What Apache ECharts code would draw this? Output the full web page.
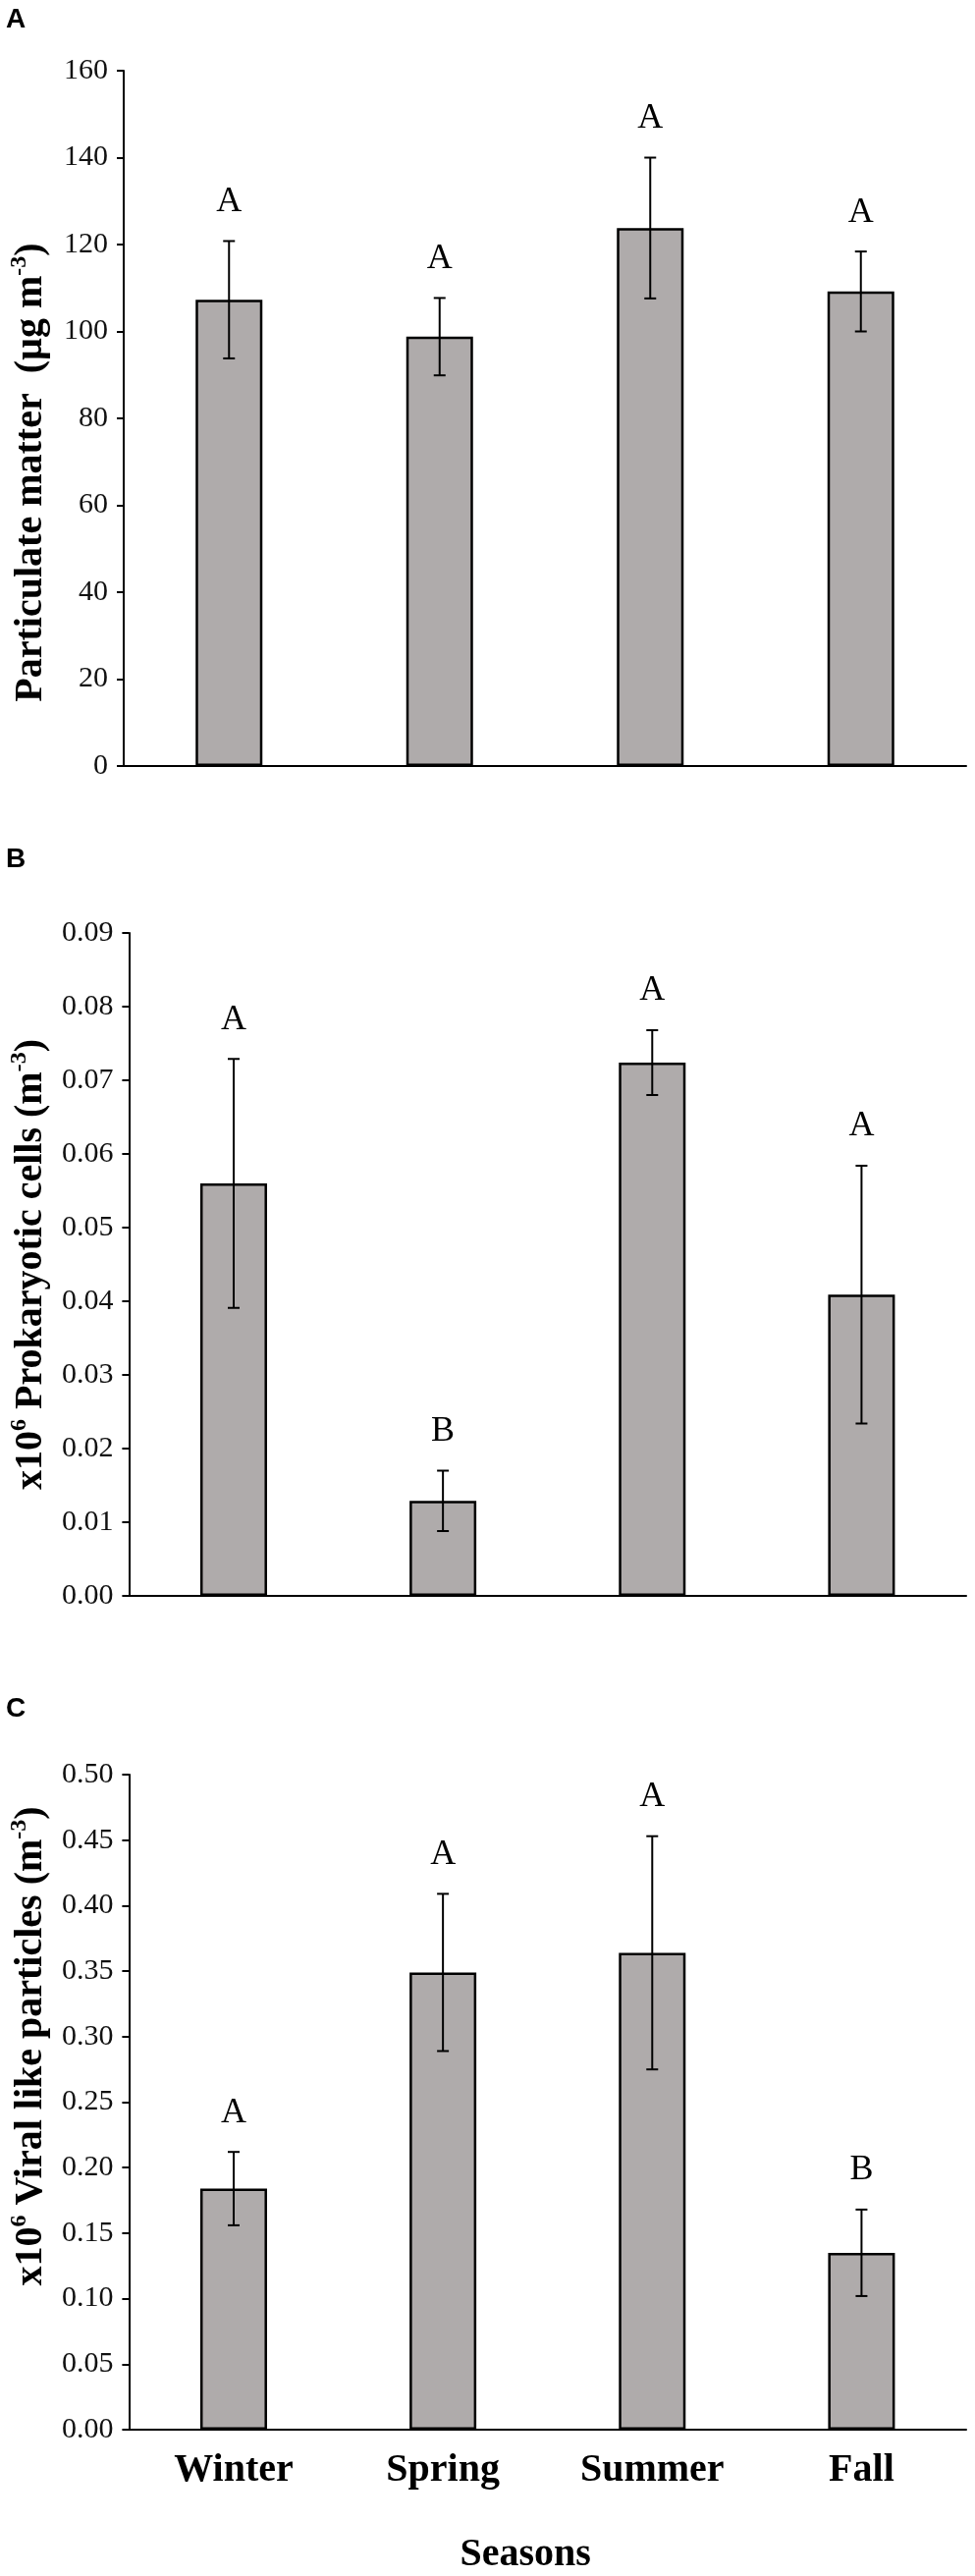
<!DOCTYPE html>
<html>
<head>
<meta charset="utf-8">
<script src="https://cdn.jsdelivr.net/npm/echarts@6/dist/echarts.min.js"></script>
<style>
  html, body { margin: 0; padding: 0; background: #fff; }
  #chart { width: 993px; height: 2623px; }
</style>
</head>
<body>
<div id="chart"></div>
<script>
// seasons on the x axis
var seasons = ['Winter', 'Spring', 'Summer', 'Fall'];

// A - particulate matter (ug m-3)
var pmMean = [107.3, 98.8, 123.8, 109.2];
var pmSe = [13.5, 8.9, 16.2, 9.2];
var pmLetters = ['A', 'A', 'A', 'A'];
var pmTicks = [0, 20, 40, 60, 80, 100, 120, 140, 160];

// B - prokaryotic cells x10^6 (m-3)
var proMean = [0.056, 0.0129, 0.0724, 0.0409];
var proSe = [0.0169, 0.0041, 0.0044, 0.0175];
var proLetters = ['A', 'B', 'A', 'A'];
var proTicks = [0.00, 0.01, 0.02, 0.03, 0.04, 0.05, 0.06, 0.07, 0.08, 0.09];

// C - viral like particles x10^6 (m-3)
var virMean = [0.184, 0.349, 0.364, 0.135];
var virSe = [0.028, 0.060, 0.089, 0.033];
var virLetters = ['A', 'A', 'A', 'B'];
var virTicks = [0.00, 0.05, 0.10, 0.15, 0.20, 0.25, 0.30, 0.35, 0.40, 0.45, 0.50];

var SERIF = "'Liberation Serif', 'Times New Roman', serif";
var SANS = "'Liberation Sans', Arial, sans-serif";

var panels = [
  { tag: 'A', top: 72, height: 708, mean: pmMean, se: pmSe, letters: pmLetters, ticks: pmTicks, digits: 0,
    name: '{b|Particulate matter  (µg m}{sup|-3}{b|)}', namePad: [0, 110, 0, 0] },
  { tag: 'B', top: 950, height: 675, mean: proMean, se: proSe, letters: proLetters, ticks: proTicks, digits: 2,
    name: '{b|x10}{sup|6}{b| Prokaryotic cells (m}{sup|-3}{b|)}', namePad: [0, 0, 0, 0] },
  { tag: 'C', top: 1807, height: 678, mean: virMean, se: virSe, letters: virLetters, ticks: virTicks, digits: 2,
    name: '{b|x10}{sup|6}{b| Viral like particles (m}{sup|-3}{b|)}', namePad: [0, 0, 0, 114] }
];

var grid = [], xAxis = [], yAxis = [], series = [], graphic = [];

panels.forEach(function (p, k) {
  var last = k === panels.length - 1;
  grid.push({ left: 120, right: 9, top: p.top, height: p.height });

  xAxis.push({
    type: 'category', gridIndex: k, data: seasons,
    axisLine: { lineStyle: { color: '#000', width: 2 } },
    axisTick: { show: false },
    axisLabel: {
      show: last, margin: 22, color: '#000',
      fontFamily: SERIF, fontWeight: 'bold', fontSize: 40
    },
    name: last ? 'Seasons' : '', nameLocation: 'middle', nameGap: 108,
    nameTextStyle: { fontFamily: SERIF, fontWeight: 'bold', fontSize: 40, color: '#000', padding: [0, 45, 0, 0] }
  });

  yAxis.push({
    type: 'value', gridIndex: k,
    min: p.ticks[0], max: p.ticks[p.ticks.length - 1], interval: p.ticks[1] - p.ticks[0],
    splitLine: { show: false },
    axisLine: { show: true, lineStyle: { color: '#000', width: 2 } },
    axisTick: { show: true, length: 7, lineStyle: { color: '#000', width: 2 } },
    axisLabel: {
      margin: 16, color: '#111', fontFamily: SERIF, fontSize: 30,
      formatter: function (v) { return v.toFixed(p.digits); }
    },
    name: p.name, nameLocation: 'middle', nameRotate: 90, nameGap: 74,
    nameTextStyle: {
      color: '#000', padding: p.namePad,
      rich: {
        b: { fontFamily: SERIF, fontWeight: 'bold', fontSize: 40, color: '#000', lineHeight: 44, verticalAlign: 'bottom' },
        sup: { fontFamily: SERIF, fontWeight: 'bold', fontSize: 24, color: '#000', lineHeight: 44, verticalAlign: 'top', padding: [0, 0, 14, 0] }
      }
    }
  });

  series.push({
    type: 'bar', xAxisIndex: k, yAxisIndex: k, data: p.mean, barWidth: 68,
    itemStyle: { color: '#afabab', borderColor: '#000', borderWidth: 2.5 },
    silent: true
  });

  var errData = p.mean.map(function (m, i) { return [i, m - p.se[i], m + p.se[i]]; });
  series.push({
    type: 'custom', xAxisIndex: k, yAxisIndex: k, data: errData, silent: true, z: 5,
    renderItem: function (params, api) {
      var lo = api.coord([api.value(0), api.value(1)]);
      var hi = api.coord([api.value(0), api.value(2)]);
      var x = hi[0], cap = 6;
      var ls = { stroke: '#000', lineWidth: 2 };
      return {
        type: 'group',
        children: [
          { type: 'line', shape: { x1: x, y1: lo[1], x2: x, y2: hi[1] }, style: ls },
          { type: 'line', shape: { x1: x - cap, y1: hi[1], x2: x + cap, y2: hi[1] }, style: ls },
          { type: 'line', shape: { x1: x - cap, y1: lo[1], x2: x + cap, y2: lo[1] }, style: ls },
          { type: 'text', x: x, y: hi[1] - 22,
            style: { text: p.letters[params.dataIndex], fill: '#000', font: '36px ' + SERIF,
                     textAlign: 'center', textVerticalAlign: 'bottom' } }
        ]
      };
    }
  });

  graphic.push({
    type: 'text', left: 6, top: p.top - 64,
    style: { text: p.tag, font: 'bold 28px ' + SANS, fill: '#000' }
  });
});

graphic[0].top = 6;
graphic[1].top = 861;
graphic[2].top = 1726;

var chart = echarts.init(document.getElementById('chart'), null, { renderer: 'canvas' });
chart.setOption({
  animation: false,
  backgroundColor: '#fff',
  grid: grid, xAxis: xAxis, yAxis: yAxis, series: series, graphic: graphic
});
</script>
</body>
</html>
